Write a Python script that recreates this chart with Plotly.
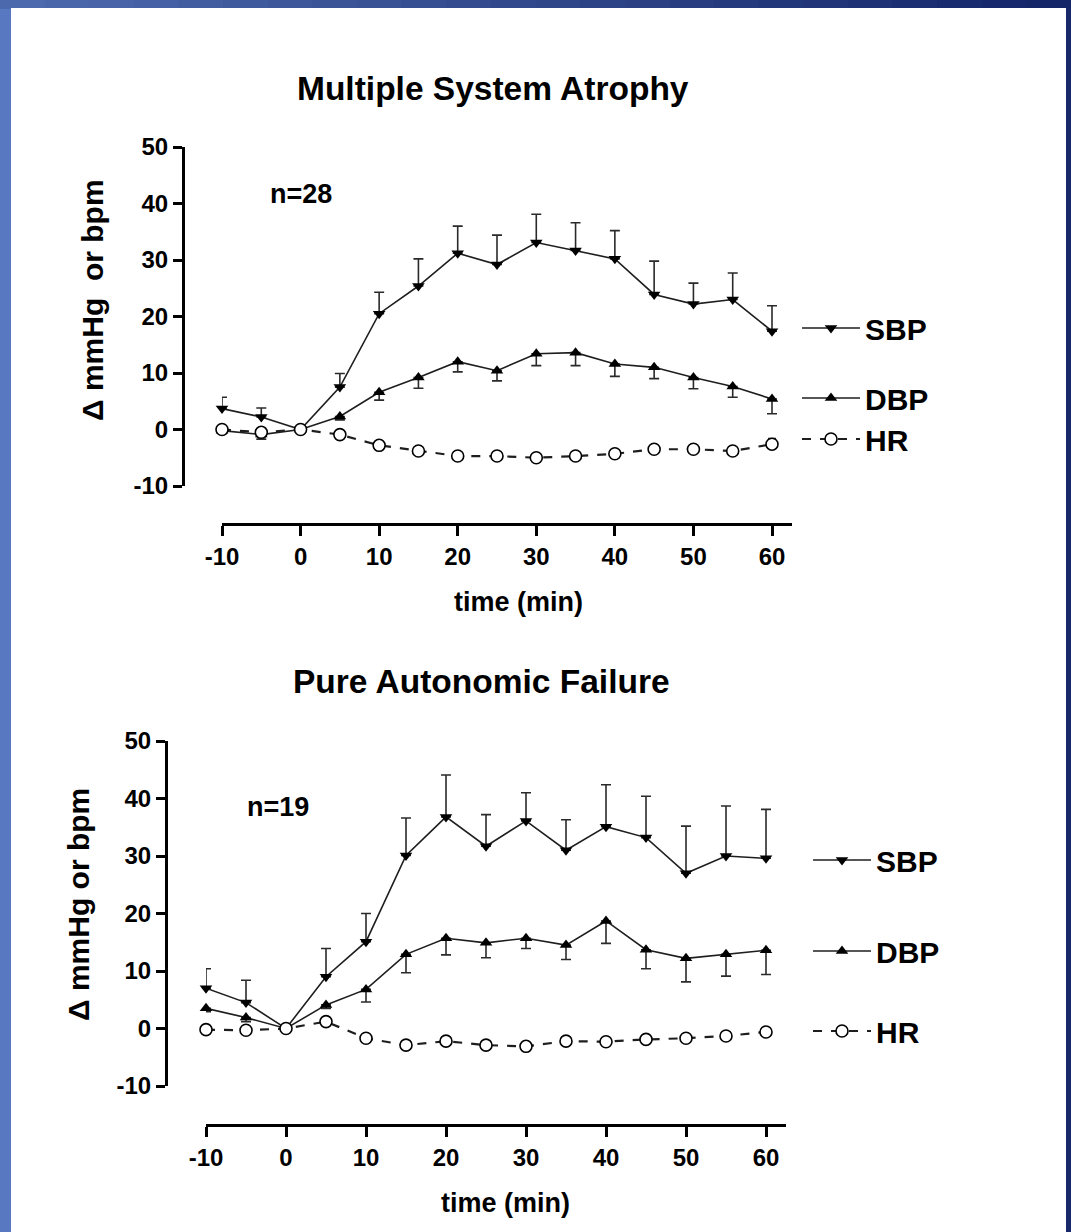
import plotly.graph_objects as go

W, H = 1071, 1232

# ---------------- data ----------------
time_min = [-10, -5, 0, 5, 10, 15, 20, 25, 30, 35, 40, 45, 50, 55, 60]
x_ticks = [-10, 0, 10, 20, 30, 40, 50, 60]
x_tick_labels = ["-10", "0", "10", "20", "30", "40", "50", "60"]
y_ticks = [-10, 0, 10, 20, 30, 40, 50]
y_tick_labels = ["-10", "0", "10", "20", "30", "40", "50"]

# Multiple System Atrophy (n=28)
msa_sbp = [3.7, 2.2, 0, 7.5, 20.5, 25.4, 31.2, 29.2, 33.1, 31.7, 30.2, 23.9, 22.2, 23.0, 17.4]
msa_sbp_err = [2.0, 1.6, 0, 2.4, 3.8, 4.8, 4.8, 5.2, 5.0, 4.9, 5.0, 5.9, 3.7, 4.7, 4.5]
msa_dbp = [-0.2, -0.9, 0, 2.3, 6.6, 9.2, 12.0, 10.4, 13.4, 13.6, 11.6, 11.0, 9.2, 7.6, 5.4]
msa_dbp_err = [0.5, 0.8, 0, 0.6, 1.4, 1.9, 1.8, 1.8, 2.1, 2.3, 2.2, 2.0, 2.0, 1.9, 2.6]
msa_hr = [0, -0.5, 0, -0.9, -2.8, -3.8, -4.7, -4.7, -5.0, -4.7, -4.3, -3.5, -3.5, -3.8, -2.6]
msa_hr_err = [0, 0, 0, 0, 0, 0, 0, 0, 0, 0, 0, 0, 0, 0, 1.0]

# Pure Autonomic Failure (n=19)
paf_sbp = [7.0, 4.5, 0, 9.0, 15.1, 30.1, 36.8, 31.7, 36.1, 31.0, 35.1, 33.2, 27.0, 30.0, 29.6]
paf_sbp_err = [3.4, 3.9, 0, 4.9, 4.9, 6.5, 7.3, 5.5, 4.9, 5.3, 7.3, 7.2, 8.2, 8.7, 8.5]
paf_dbp = [3.5, 1.9, 0, 4.1, 6.8, 12.9, 15.7, 14.9, 15.7, 14.5, 18.7, 13.7, 12.2, 12.9, 13.6]
paf_dbp_err = [0.6, 0.7, 0, 0.6, 2.2, 3.2, 2.9, 2.6, 1.8, 2.5, 3.9, 3.3, 4.1, 3.8, 4.2]
paf_hr = [-0.2, -0.3, 0, 1.2, -1.7, -2.9, -2.2, -2.9, -3.1, -2.2, -2.3, -1.9, -1.7, -1.3, -0.6]

titles = ["Multiple System Atrophy", "Pure Autonomic Failure"]
n_labels = ["n=28", "n=19"]
y_titles = ["\u0394 mmHg  or bpm", "\u0394 mmHg or bpm"]
x_title = "time (min)"
series_names = ["SBP", "DBP", "HR"]

# ---------------- helpers ----------------
def px(x):
    return x / W

def py(y):
    return 1 - y / H

FONT = "Liberation Sans, Arial, Helvetica, sans-serif"
LINE_C = "#1e1e1e"
ERR_C = "#2a2a2a"

fig = go.Figure()

panels = [
    dict(xa="x", ya="y", sbp=msa_sbp, sbpe=msa_sbp_err, dbp=msa_dbp, dbpe=msa_dbp_err,
         hr=msa_hr, hre=msa_hr_err, leg=["legend", "legend2", "legend3"]),
    dict(xa="x2", ya="y2", sbp=paf_sbp, sbpe=paf_sbp_err, dbp=paf_dbp, dbpe=paf_dbp_err,
         hr=paf_hr, hre=[0] * len(paf_hr), leg=["legend4", "legend5", "legend6"]),
]

for p in panels:
    fig.add_trace(go.Scatter(
        x=time_min, y=p["sbp"], name=series_names[0], mode="lines+markers",
        xaxis=p["xa"], yaxis=p["ya"], legend=p["leg"][0], cliponaxis=False,
        line=dict(color=LINE_C, width=1.6),
        marker=dict(symbol="triangle-down", size=11, color="black"),
        error_y=dict(type="data", array=p["sbpe"], arrayminus=[0] * len(time_min),
                     symmetric=False, color=ERR_C, thickness=1.6, width=5),
    ))
    fig.add_trace(go.Scatter(
        x=time_min, y=p["dbp"], name=series_names[1], mode="lines+markers",
        xaxis=p["xa"], yaxis=p["ya"], legend=p["leg"][1], cliponaxis=False,
        line=dict(color=LINE_C, width=1.6),
        marker=dict(symbol="triangle-up", size=11, color="black"),
        error_y=dict(type="data", array=[0] * len(time_min), arrayminus=p["dbpe"],
                     symmetric=False, color=ERR_C, thickness=1.6, width=5),
    ))
    fig.add_trace(go.Scatter(
        x=time_min, y=p["hr"], name=series_names[2], mode="lines+markers",
        xaxis=p["xa"], yaxis=p["ya"], legend=p["leg"][2], cliponaxis=False,
        line=dict(color=LINE_C, width=2.2, dash="dash"),
        marker=dict(symbol="circle", size=12, color="white",
                    line=dict(color="black", width=1.6)),
        error_y=dict(type="data", array=p["hre"], arrayminus=[0] * len(time_min),
                     symmetric=False, color=ERR_C, thickness=1.4, width=4),
    ))

# ---------------- axes geometry ----------------
geo = [
    dict(x0=222, x60=772, y50=147, ym10=486, yaxis_x=183, xaxis_y=524),
    dict(x0=206, x60=766, y50=741, ym10=1086, yaxis_x=166, xaxis_y=1125),
]

tickfont = dict(family=FONT, size=24, color="black", weight="bold")
layout_axes = {}
for i, g in enumerate(geo):
    per = (g["x60"] - g["x0"]) / 70.0
    x_end = g["x60"] + per * 2.5
    sfx = "" if i == 0 else "2"
    layout_axes["xaxis" + sfx] = dict(
        domain=[px(g["x0"]), px(x_end)], range=[-10, 62.5],
        anchor="free", position=py(g["xaxis_y"]),
        tickvals=x_ticks, ticktext=x_tick_labels, ticks="outside", ticklen=10, tickwidth=2.5,
        tickcolor="black", showline=True, linewidth=3, linecolor="black",
        showgrid=False, zeroline=False, tickfont=tickfont, fixedrange=True,
    )
    layout_axes["yaxis" + sfx] = dict(
        domain=[py(g["ym10"]), py(g["y50"])], range=[-10, 50],
        anchor="free", position=px(g["yaxis_x"]),
        tickvals=y_ticks, ticktext=y_tick_labels, ticks="outside", ticklen=9, tickwidth=2.5,
        tickcolor="black", showline=True, linewidth=3, linecolor="black",
        showgrid=False, zeroline=False, tickfont=tickfont, fixedrange=True,
    )

# ---------------- legends (one per series, beside the last point) ----------------
leg_font = dict(family=FONT, size=30, color="black", weight="bold")
legend_pos = {
    "legend": (797, 328), "legend2": (797, 398), "legend3": (797, 439),
    "legend4": (808, 860), "legend5": (808, 951), "legend6": (808, 1031),
}
for k, (lx, ly) in legend_pos.items():
    layout_axes[k] = dict(x=px(lx), y=py(ly), xanchor="left", yanchor="middle",
                          bgcolor="rgba(0,0,0,0)", borderwidth=0, font=leg_font,
                          itemwidth=58, itemclick=False, itemdoubleclick=False)

# ---------------- annotations ----------------
ann = []
title_pos = [(493, 89), (481, 681)]
n_pos = [(301, 194), (278, 807)]
ytitle_pos = [(93, 300), (78, 905)]
xtitle_pos = [(518, 602), (505, 1203)]
for i in range(2):
    ann.append(dict(text=titles[i], x=px(title_pos[i][0]), y=py(title_pos[i][1]),
                    xref="paper", yref="paper", showarrow=False, xanchor="center", yanchor="middle",
                    font=dict(family=FONT, size=33.5, color="black", weight="bold")))
    ann.append(dict(text=n_labels[i], x=px(n_pos[i][0]), y=py(n_pos[i][1]),
                    xref="paper", yref="paper", showarrow=False, xanchor="center", yanchor="middle",
                    font=dict(family=FONT, size=27, color="black", weight="bold")))
    ann.append(dict(text=y_titles[i], x=px(ytitle_pos[i][0]), y=py(ytitle_pos[i][1]),
                    xref="paper", yref="paper", showarrow=False, xanchor="center", yanchor="middle",
                    textangle=-90,
                    font=dict(family=FONT, size=30, color="black", weight="bold")))
    ann.append(dict(text=x_title, x=px(xtitle_pos[i][0]), y=py(xtitle_pos[i][1]),
                    xref="paper", yref="paper", showarrow=False, xanchor="center", yanchor="middle",
                    font=dict(family=FONT, size=27, color="black", weight="bold")))

# ---------------- background (blue slide frame + white page) ----------------
shapes = []
n_steps = 24
c0 = (0x4d, 0x69, 0xad)
c1 = (0x14, 0x26, 0x68)
for s in range(n_steps):
    t = s / (n_steps - 1)
    c = tuple(int(c0[j] + (c1[j] - c0[j]) * t) for j in range(3))
    shapes.append(dict(type="rect", xref="paper", yref="paper", layer="below",
                       x0=s / n_steps, x1=(s + 1) / n_steps + 0.002, y0=py(9), y1=1,
                       line=dict(width=0), fillcolor="rgb(%d,%d,%d)" % c))
shapes.append(dict(type="rect", xref="paper", yref="paper", layer="below",
                   x0=px(1066), x1=1, y0=0, y1=py(8), line=dict(width=0), fillcolor="#17296b"))
shapes.append(dict(type="rect", xref="paper", yref="paper", layer="below",
                   x0=px(11), x1=px(1066), y0=0, y1=py(8), line=dict(width=0), fillcolor="white"))

fig.update_layout(
    width=W, height=H,
    margin=dict(l=0, r=0, t=0, b=0, pad=0, autoexpand=False),
    paper_bgcolor="#5878c2",
    plot_bgcolor="rgba(0,0,0,0)",
    showlegend=True,
    annotations=ann,
    shapes=shapes,
    font=dict(family=FONT, color="black"),
    **layout_axes,
)

fig.write_html("out.html")
